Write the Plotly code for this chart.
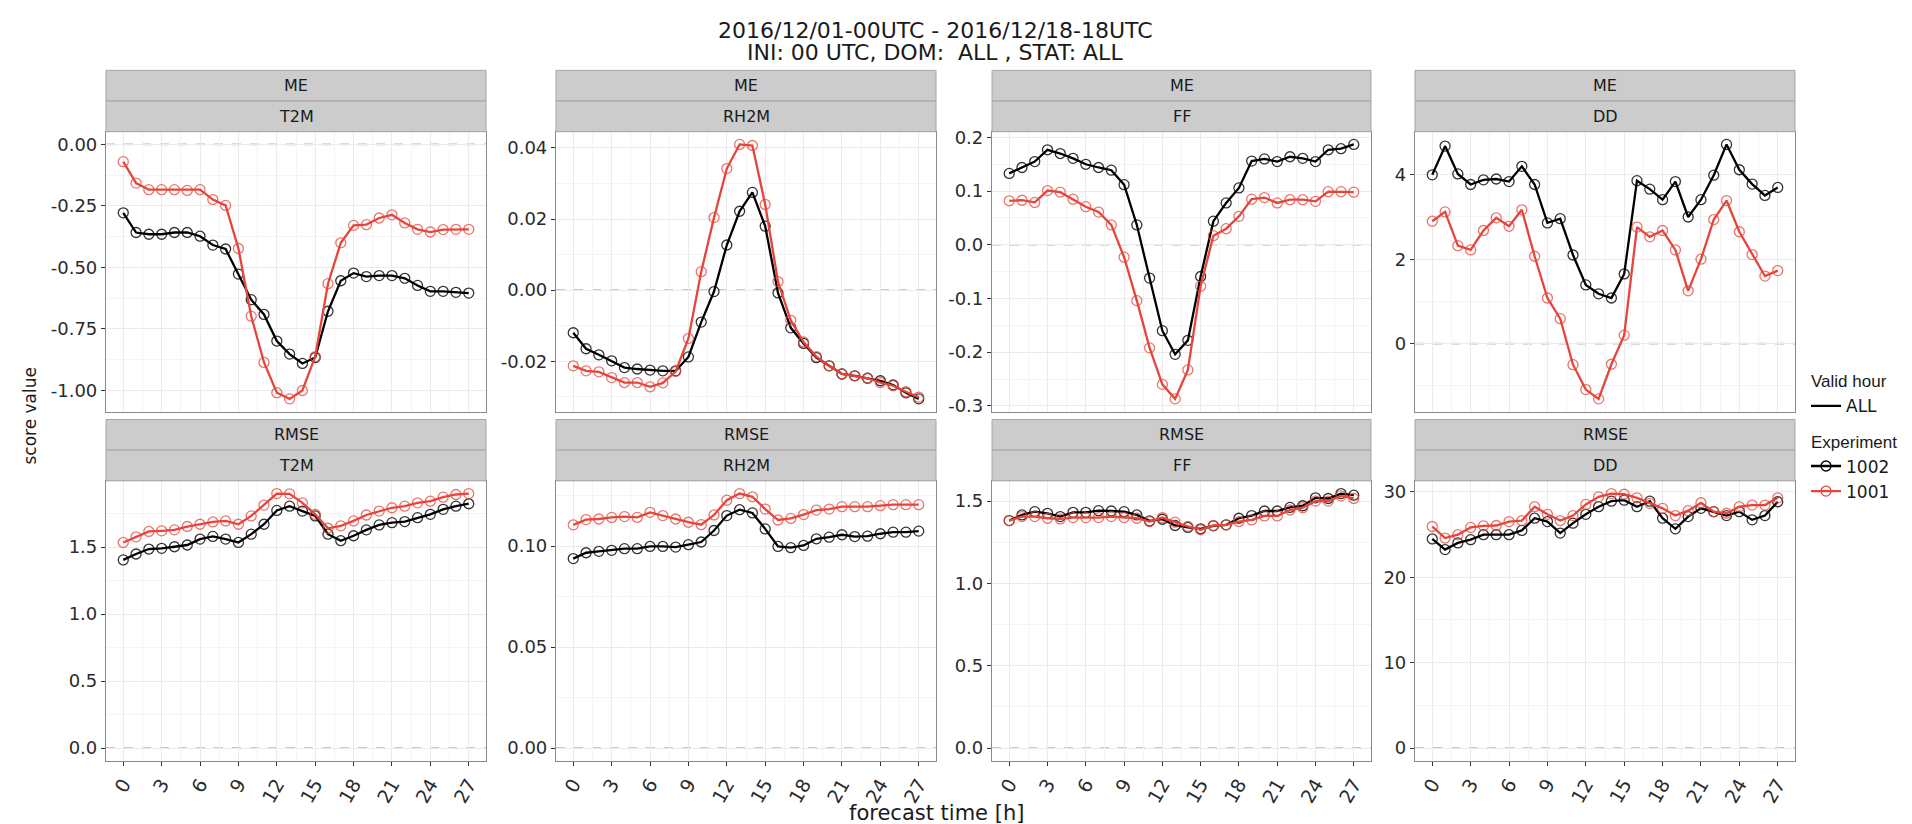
import plotly.graph_objects as go

# ---------------- data ----------------
hours = list(range(28))
scores = ["ME", "RMSE"]
params = ["T2M", "RH2M", "FF", "DD"]
experiments = ["1002", "1001"]
exp_colors = {"1002": "#000000", "1001": "#E5453B"}

me_t2m_1002 = [-0.278, -0.358, -0.365, -0.365, -0.358, -0.358, -0.373, -0.409, -0.425, -0.527,
               -0.631, -0.691, -0.799, -0.852, -0.890, -0.866, -0.678, -0.554, -0.523, -0.537,
               -0.533, -0.533, -0.544, -0.573, -0.597, -0.597, -0.601, -0.604]
me_t2m_1001 = [-0.070, -0.157, -0.184, -0.184, -0.184, -0.187, -0.184, -0.224, -0.248, -0.423,
               -0.698, -0.886, -1.009, -1.034, -1.000, -0.862, -0.566, -0.400, -0.329, -0.326,
               -0.299, -0.286, -0.319, -0.345, -0.356, -0.346, -0.345, -0.345]
me_rh2m_1002 = [-0.0120, -0.0165, -0.0182, -0.0199, -0.0218, -0.0222, -0.0225, -0.0227, -0.0227, -0.0188,
                -0.0090, -0.0004, 0.0127, 0.0222, 0.0275, 0.0180, -0.0008, -0.0106, -0.0150, -0.0190,
                -0.0213, -0.0236, -0.0241, -0.0248, -0.0255, -0.0267, -0.0289, -0.0306]
me_rh2m_1001 = [-0.0213, -0.0227, -0.0230, -0.0246, -0.0260, -0.0260, -0.0272, -0.0261, -0.0229, -0.0136,
                0.0052, 0.0204, 0.0342, 0.0410, 0.0407, 0.0241, 0.0024, -0.0085, -0.0146, -0.0187,
                -0.0213, -0.0236, -0.0241, -0.0248, -0.0260, -0.0269, -0.0286, -0.0301]
me_ff_1002 = [0.133, 0.144, 0.155, 0.177, 0.170, 0.161, 0.150, 0.144, 0.139, 0.112,
              0.037, -0.062, -0.160, -0.204, -0.178, -0.059, 0.044, 0.078, 0.106, 0.156,
              0.160, 0.155, 0.164, 0.161, 0.155, 0.177, 0.179, 0.187]
me_ff_1001 = [0.082, 0.083, 0.079, 0.101, 0.098, 0.085, 0.071, 0.061, 0.037, -0.023,
              -0.104, -0.192, -0.260, -0.287, -0.233, -0.077, 0.017, 0.030, 0.053, 0.085,
              0.088, 0.078, 0.084, 0.084, 0.081, 0.099, 0.099, 0.098]
me_dd_1002 = [4.00, 4.68, 4.02, 3.77, 3.88, 3.90, 3.84, 4.20, 3.77, 2.86,
              2.96, 2.10, 1.39, 1.18, 1.08, 1.65, 3.86, 3.66, 3.41, 3.84,
              3.00, 3.41, 3.99, 4.72, 4.12, 3.78, 3.51, 3.70]
me_dd_1001 = [2.90, 3.12, 2.32, 2.22, 2.68, 2.98, 2.78, 3.17, 2.07, 1.08,
              0.59, -0.50, -1.09, -1.31, -0.49, 0.20, 2.76, 2.53, 2.68, 2.22,
              1.25, 2.00, 2.94, 3.39, 2.65, 2.11, 1.60, 1.73]
rmse_t2m_1002 = [1.404, 1.448, 1.485, 1.490, 1.502, 1.515, 1.559, 1.579, 1.559, 1.534,
                 1.596, 1.670, 1.773, 1.805, 1.768, 1.732, 1.596, 1.547, 1.584, 1.628,
                 1.665, 1.682, 1.690, 1.719, 1.744, 1.781, 1.805, 1.823]
rmse_t2m_1001 = [1.534, 1.576, 1.616, 1.621, 1.628, 1.653, 1.670, 1.687, 1.695, 1.670,
                 1.732, 1.813, 1.899, 1.897, 1.830, 1.744, 1.640, 1.658, 1.695, 1.739,
                 1.768, 1.793, 1.805, 1.830, 1.842, 1.872, 1.892, 1.899]
rmse_rh2m_1002 = [0.0938, 0.0967, 0.0974, 0.0979, 0.0987, 0.0987, 0.0998, 0.0998, 0.0995, 0.1007,
                  0.1020, 0.1077, 0.1151, 0.1180, 0.1164, 0.1085, 0.0998, 0.0992, 0.1003, 0.1036,
                  0.1044, 0.1056, 0.1047, 0.1049, 0.1061, 0.1069, 0.1069, 0.1074]
rmse_rh2m_1001 = [0.1105, 0.1131, 0.1134, 0.1142, 0.1146, 0.1142, 0.1167, 0.1151, 0.1134, 0.1118,
                  0.1106, 0.1154, 0.1227, 0.1260, 0.1244, 0.1183, 0.1129, 0.1137, 0.1156, 0.1178,
                  0.1183, 0.1195, 0.1195, 0.1195, 0.1200, 0.1205, 0.1205, 0.1205]
rmse_ff_1002 = [1.382, 1.416, 1.436, 1.426, 1.406, 1.432, 1.432, 1.442, 1.440, 1.436,
                1.416, 1.380, 1.390, 1.352, 1.340, 1.332, 1.350, 1.356, 1.396, 1.412,
                1.440, 1.440, 1.462, 1.472, 1.520, 1.516, 1.546, 1.536]
rmse_ff_1001 = [1.382, 1.406, 1.406, 1.396, 1.392, 1.400, 1.400, 1.400, 1.406, 1.400,
                1.396, 1.376, 1.400, 1.372, 1.346, 1.326, 1.352, 1.356, 1.376, 1.386,
                1.410, 1.410, 1.446, 1.460, 1.500, 1.500, 1.532, 1.516]
rmse_dd_1002 = [24.49, 23.25, 24.03, 24.41, 24.99, 24.99, 24.99, 25.49, 26.92, 26.53,
                25.18, 26.34, 27.38, 28.27, 28.92, 29.04, 28.27, 28.92, 26.92, 25.68,
                27.11, 28.08, 27.69, 27.23, 27.69, 26.73, 27.23, 28.85]
rmse_dd_1001 = [25.95, 24.60, 24.99, 25.84, 26.03, 26.07, 26.53, 26.65, 28.27, 27.38,
                26.65, 27.23, 28.54, 29.43, 29.81, 29.73, 29.31, 28.66, 28.08, 27.23,
                27.81, 28.73, 27.69, 27.50, 28.27, 28.46, 28.46, 29.31]

x_tick_vals = [0, 3, 6, 9, 12, 15, 18, 21, 24, 27]
x_tick_text = ["0", "3", "6", "9", "12", "15", "18", "21", "24", "27"]

y_ticks = {
    ("ME", "T2M"): ([-1.0, -0.75, -0.5, -0.25, 0.0], ["-1.00", "-0.75", "-0.50", "-0.25", "0.00"]),
    ("ME", "RH2M"): ([-0.02, 0.0, 0.02, 0.04], ["-0.02", "0.00", "0.02", "0.04"]),
    ("ME", "FF"): ([-0.3, -0.2, -0.1, 0.0, 0.1, 0.2], ["-0.3", "-0.2", "-0.1", "0.0", "0.1", "0.2"]),
    ("ME", "DD"): ([0, 2, 4], ["0", "2", "4"]),
    ("RMSE", "T2M"): ([0.0, 0.5, 1.0, 1.5], ["0.0", "0.5", "1.0", "1.5"]),
    ("RMSE", "RH2M"): ([0.0, 0.05, 0.10], ["0.00", "0.05", "0.10"]),
    ("RMSE", "FF"): ([0.0, 0.5, 1.0, 1.5], ["0.0", "0.5", "1.0", "1.5"]),
    ("RMSE", "DD"): ([0, 10, 20, 30], ["0", "10", "20", "30"]),
}

series = {
    ("ME", "T2M"): {"1002": me_t2m_1002, "1001": me_t2m_1001},
    ("ME", "RH2M"): {"1002": me_rh2m_1002, "1001": me_rh2m_1001},
    ("ME", "FF"): {"1002": me_ff_1002, "1001": me_ff_1001},
    ("ME", "DD"): {"1002": me_dd_1002, "1001": me_dd_1001},
    ("RMSE", "T2M"): {"1002": rmse_t2m_1002, "1001": rmse_t2m_1001},
    ("RMSE", "RH2M"): {"1002": rmse_rh2m_1002, "1001": rmse_rh2m_1001},
    ("RMSE", "FF"): {"1002": rmse_ff_1002, "1001": rmse_ff_1001},
    ("RMSE", "DD"): {"1002": rmse_dd_1002, "1001": rmse_dd_1001},
}

title_line1 = "2016/12/01-00UTC - 2016/12/18-18UTC"
title_line2 = "INI: 00 UTC, DOM:  ALL , STAT: ALL"
x_title = "forecast time [h]"
y_title = "score value"

# ---------------- layout geometry (pixels) ----------------
W, H = 1912, 824
col_px = [(98, 478), (548, 928), (984, 1363), (1407, 1787)]
row_px = [(120, 403), (473, 756)]
strip_h = 31
FONT = "DejaVu Sans, Liberation Sans, sans-serif"
LFONT = "Liberation Sans, Arial, sans-serif"
TXT = "#2B2B2B"


def px_x(p):
    return p / W


def px_y(p):
    return 1 - p / H


fig = go.Figure()
layout = dict(
    width=W, height=H,
    margin=dict(l=0, r=0, t=0, b=0),
    paper_bgcolor="white", plot_bgcolor="white",
    font=dict(family=FONT, color=TXT),
    showlegend=True,
)
shapes = []
annotations = []

idx = 0
for r, sc in enumerate(scores):
    for c, pa in enumerate(params):
        idx += 1
        xa = "x" if idx == 1 else f"x{idx}"
        ya = "y" if idx == 1 else f"y{idx}"
        key = (sc, pa)
        vals = series[key]
        allv = vals["1002"] + vals["1001"] + [0.0]
        lo, hi = min(allv), max(allv)
        pad = 0.05 * (hi - lo)
        tv, tt = y_ticks[key]
        major = tv[1] - tv[0]
        for e in experiments:
            col = exp_colors[e]
            mcol = "rgba(0,0,0,0.8)" if e == "1002" else "rgba(229,69,59,0.75)"
            fig.add_trace(go.Scatter(
                x=hours, y=vals[e], xaxis=xa, yaxis=ya, mode="lines+markers",
                line=dict(color=col, width=2.3),
                marker=dict(symbol="circle-open", size=10, color=mcol, line=dict(width=1.3, color=mcol)),
                showlegend=False, hoverinfo="skip",
            ))
        x0, x1 = col_px[c]
        y0, y1 = row_px[r]
        xk = "xaxis" if idx == 1 else f"xaxis{idx}"
        yk = "yaxis" if idx == 1 else f"yaxis{idx}"
        layout[xk] = dict(
            domain=[px_x(x0), px_x(x1)], anchor=ya,
            range=[-1.35, 28.35], tickvals=x_tick_vals,
            ticktext=x_tick_text if r == 1 else [""] * len(x_tick_vals),
            ticks="outside" if r == 1 else "", ticklen=4, tickwidth=1.3, tickcolor="#333333",
            tickangle=-60, tickfont=dict(size=19, color=TXT, family=FONT),
            showgrid=True, gridcolor="#EBEBEB", gridwidth=1,
            minor=dict(tick0=0, dtick=1.5, showgrid=True, gridcolor="#F4F4F4", gridwidth=0.8),
            showline=True, linecolor="#8A8A8A", linewidth=1.2, mirror=True,
            zeroline=False, fixedrange=True,
        )
        layout[yk] = dict(
            domain=[px_y(y1), px_y(y0)], anchor=xa,
            range=[lo - pad, hi + pad], tickvals=tv, ticktext=tt,
            ticks="outside", ticklen=4, tickwidth=1.3, tickcolor="#333333",
            tickfont=dict(size=18, color=TXT, family=FONT),
            showgrid=True, gridcolor="#EBEBEB", gridwidth=1,
            minor=dict(tick0=tv[0], dtick=major / 2, showgrid=True, gridcolor="#F4F4F4", gridwidth=0.8),
            showline=True, linecolor="#8A8A8A", linewidth=1.2, mirror=True,
            zeroline=False, fixedrange=True,
        )
        # dashed zero line
        shapes.append(dict(type="line", xref=f"{xa} domain", yref=ya, x0=0, x1=1, y0=0, y1=0,
                           line=dict(color="#B8B8B8", width=1.6, dash="dash"), layer="below"))
        # strips
        for k, label in enumerate([sc, pa]):
            sy0 = y0 - strip_h * (2 - k)
            sy1 = sy0 + strip_h
            shapes.append(dict(type="rect", xref="paper", yref="paper",
                               x0=px_x(x0), x1=px_x(x1), y0=px_y(sy1), y1=px_y(sy0),
                               fillcolor="#CCCCCC", line=dict(color="#A6A6A6", width=1)))
            annotations.append(dict(text=label, xref="paper", yref="paper",
                                    x=px_x((x0 + x1) / 2), y=px_y((sy0 + sy1) / 2),
                                    showarrow=False, font=dict(size=16, color="#1A1A1A", family=FONT),
                                    xanchor="center", yanchor="middle"))

# legend traces
fig.add_trace(go.Scatter(x=[None], y=[None], mode="lines", name="ALL",
                         line=dict(color="black", width=2.3), legendgroup="vh",
                         legendgrouptitle=dict(text="Valid hour", font=dict(size=17, color="#1A1A1A", family=LFONT)),
                         showlegend=True))
for e in experiments:
    col = exp_colors[e]
    fig.add_trace(go.Scatter(x=[None], y=[None], mode="lines+markers", name=e,
                             line=dict(color=col, width=2.3),
                             marker=dict(symbol="circle-open", size=10, color=col, line=dict(width=1.3, color=col)),
                             legendgroup="exp",
                             legendgrouptitle=dict(text="Experiment", font=dict(size=17, color="#1A1A1A", family=LFONT)),
                             showlegend=True))

annotations.append(dict(text=title_line1, xref="paper", yref="paper", x=px_x(927), y=px_y(18),
                        xanchor="center", yanchor="middle", showarrow=False,
                        font=dict(size=22, color="#1A1A1A", family=FONT)))
annotations.append(dict(text=title_line2, xref="paper", yref="paper", x=px_x(927), y=px_y(40),
                        xanchor="center", yanchor="middle", showarrow=False,
                        font=dict(size=22, color="#1A1A1A", family=FONT)))
annotations.append(dict(text=y_title, xref="paper", yref="paper", x=px_x(22), y=px_y(407),
                        xanchor="center", yanchor="middle", textangle=-90, showarrow=False,
                        font=dict(size=17, color="#1A1A1A", family=FONT)))
annotations.append(dict(text=x_title, xref="paper", yref="paper", x=px_x(928), y=px_y(809),
                        xanchor="center", yanchor="middle", showarrow=False,
                        font=dict(size=21, color="#1A1A1A", family=FONT)))

layout["shapes"] = shapes
layout["annotations"] = annotations
layout["legend"] = dict(x=px_x(1798), xanchor="left", y=px_y(354), yanchor="top",
                        font=dict(size=17, color="#1A1A1A", family=FONT),
                        tracegroupgap=10, itemwidth=30, bgcolor="rgba(0,0,0,0)",
                        traceorder="grouped")
fig.update_layout(**layout)
fig.write_html("out.html")
